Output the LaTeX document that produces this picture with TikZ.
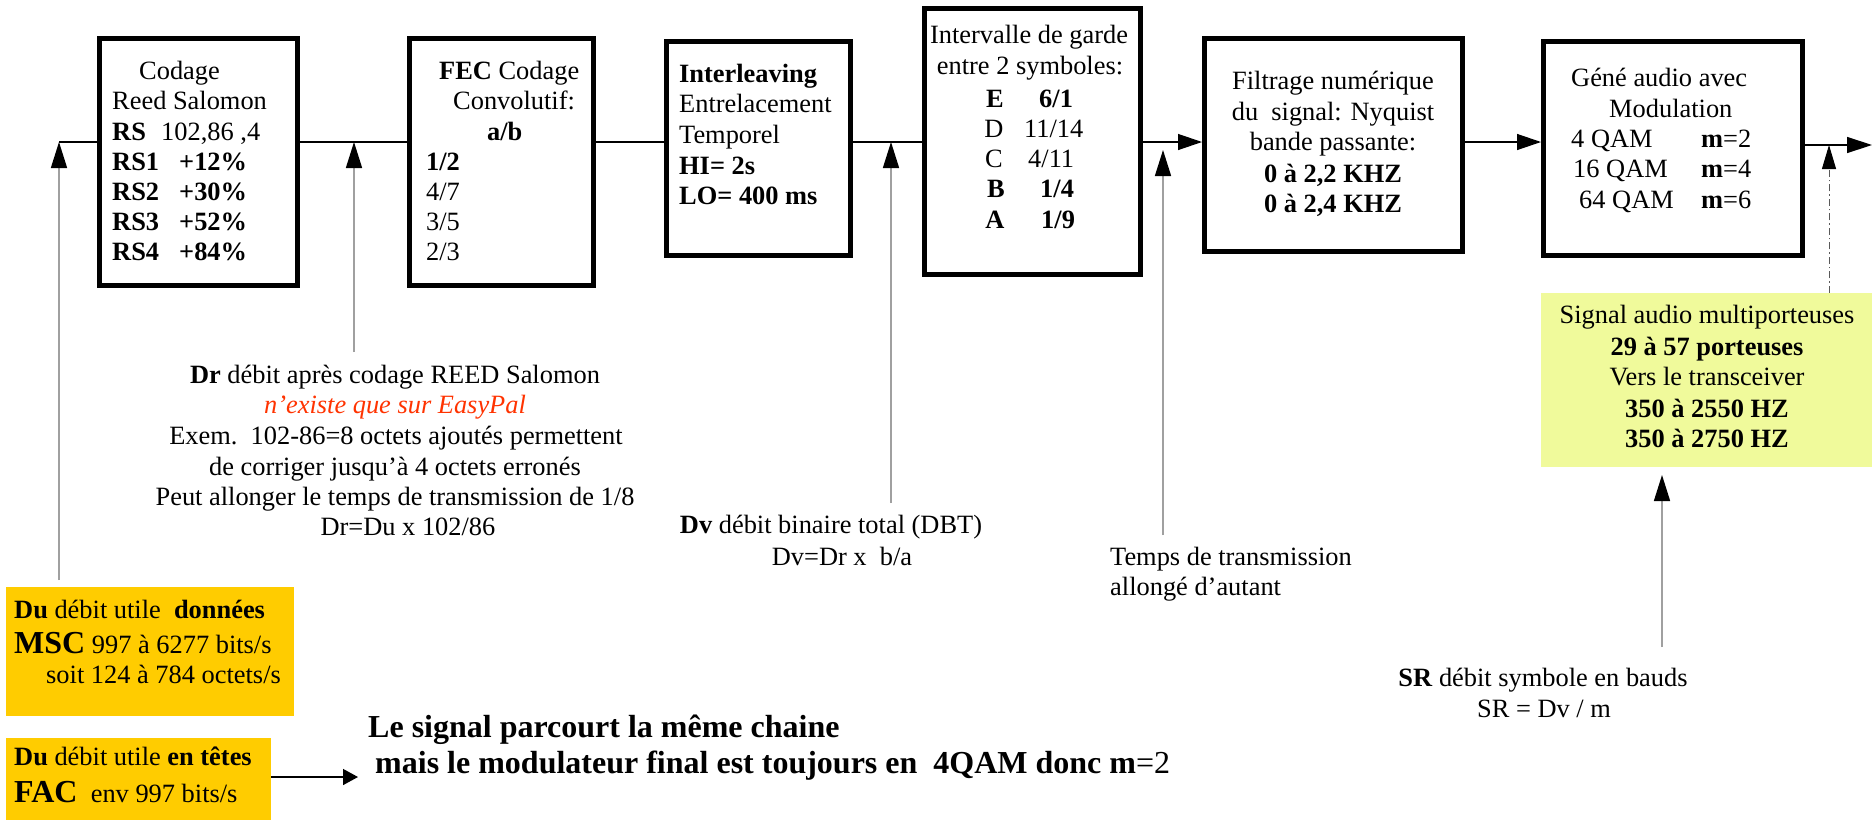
\documentclass[tikz,border=0pt]{standalone}
\usepackage{fontspec}
\setmainfont{Liberation Serif}
\usetikzlibrary{arrows.meta}
\definecolor{orangebg}{RGB}{255,204,0}
\definecolor{yellowbg}{RGB}{240,250,155}
\definecolor{redtxt}{RGB}{255,51,0}
\definecolor{lgray}{RGB}{160,160,160}
\definecolor{dgray}{RGB}{90,90,90}
\newcommand\fsn{\fontsize{26.4}{30}\selectfont}
\newcommand\fsbig{\fontsize{32}{36}\selectfont}
\begin{document}
\begin{tikzpicture}[x=1pt,y=-1pt,
  box/.style={draw=black,line width=5pt,fill=white,inner sep=0pt},
  bg/.style={inner sep=0pt},
  txt/.style={inner sep=0pt,anchor=base west,font=\fsn},
  ctxt/.style={inner sep=0pt,anchor=base,font=\fsn},
  bigtxt/.style={inner sep=0pt,anchor=base west,font=\fsbig\bfseries},
  flow/.style={draw=black,line width=1.3pt},
  tipr/.style={-{Triangle[length=24pt,width=16pt]}},
  uparr/.style={draw=lgray,line width=1.5pt,-{Triangle[length=26pt,width=16pt,color=black]}},
  dasharr/.style={draw=dgray,line width=1pt,dash pattern=on 7pt off 3pt on 1.5pt off 3pt,-{Triangle[length=24pt,width=14pt,color=black]}},
]
\useasboundingbox (0,0) rectangle (1872,820);
\fill[white] (0,0) rectangle (1872,820);

% boxes
\node[box,minimum width=198pt,minimum height=247pt] (b1) at (198.5,162) {};
\node[box,minimum width=184pt,minimum height=247pt] (b2) at (501.5,162) {};
\node[box,minimum width=184pt,minimum height=214pt] (b3) at (758.5,148.5) {};
\node[box,minimum width=216pt,minimum height=266pt] (b4) at (1032.5,141.5) {};
\node[box,minimum width=258pt,minimum height=213pt] (b5) at (1333.5,145) {};
\node[box,minimum width=259pt,minimum height=214pt] (b6) at (1673,148.5) {};
\node[bg,fill=yellowbg,minimum width=331pt,minimum height=174pt] (yl) at (1706.5,380) {};
\node[bg,fill=orangebg,minimum width=288pt,minimum height=129pt] (o1) at (150,651.5) {};
\node[bg,fill=orangebg,minimum width=265pt,minimum height=82pt] (o2) at (138.5,779) {};

% junction coordinates
\coordinate (j1) at (59,142);   \coordinate (j1b) at (59,580);
\coordinate (j2) at (354,142);  \coordinate (j2b) at (354,352);
\coordinate (j3) at (891,142);  \coordinate (j3b) at (891,503);
\coordinate (j4) at (1163,150); \coordinate (j4b) at (1163,535);
\coordinate (j5) at (1829,145); \coordinate (out) at (1872,145);
\coordinate (srt) at (1662,475); \coordinate (srb) at (1662,647);
\coordinate (fa) at (358,777);

% main chain
\draw[flow] (j1) -- (j1 -| b1.west);
\draw[flow] (j2 -| b1.east) -- (j2 -| b2.west);
\draw[flow] (j2 -| b2.east) -- (j2 -| b3.west);
\draw[flow] (j3 -| b3.east) -- (j3 -| b4.west);
\draw[flow,tipr] (j3 -| b4.east) -- (j3 -| b5.west);
\draw[flow,tipr] (j3 -| b5.east) -- (j3 -| b6.west);
\draw[flow,-{Triangle[length=25pt,width=16pt]}] (j5 -| b6.east) -- (out);
\draw[dasharr] (yl.north -| j5) -- (j5);

% upward arrows
\draw[uparr] (j1b) -- (j1);
\draw[uparr] (j2b) -- (j2);
\draw[uparr] (j3b) -- (j3);
\draw[uparr] (j4b) -- (j4);
\draw[uparr] (srb) -- (srt);
\draw[flow,line width=1.5pt,-{Triangle[length=15pt,width=16pt]}] (fa -| o2.east) -- (fa);

% box 1
\node[txt] (t1a) at (139,79) {Codage};
\node[txt] (t1b) at (112,109) {Reed Salomon};
\node[txt] (t1c) at (112,140) {\textbf{RS}};
\node[txt] (t1d) at (161,140) {102,86 ,4};
\node[txt] (t1e) at (112,170) {\textbf{RS1}};
\node[txt] (t1f) at (179,170) {\textbf{+12\%}};
\node[txt] (t1g) at (112,200) {\textbf{RS2}};
\node[txt] (t1h) at (179,200) {\textbf{+30\%}};
\node[txt] (t1i) at (112,230) {\textbf{RS3}};
\node[txt] (t1j) at (179,230) {\textbf{+52\%}};
\node[txt] (t1k) at (112,260) {\textbf{RS4}};
\node[txt] (t1l) at (179,260) {\textbf{+84\%}};

% box 2
\node[txt] (t2a) at (439,79) {\textbf{FEC} Codage};
\node[txt] (t2b) at (453,109) {Convolutif:};
\node[txt] (t2c) at (487,140) {\textbf{a/b}};
\node[txt] (t2d) at (426,170) {\textbf{1/2}};
\node[txt] (t2e) at (426,200) {4/7};
\node[txt] (t2f) at (426,230) {3/5};
\node[txt] (t2g) at (426,260) {2/3};

% box 3
\node[txt] (t3a) at (679,82) {\textbf{Interleaving}};
\node[txt] (t3b) at (679,112) {Entrelacement};
\node[txt] (t3c) at (679,143) {Temporel};
\node[txt] (t3d) at (679,174) {\textbf{HI= 2s}};
\node[txt] (t3e) at (679,204) {\textbf{LO= 400 ms}};

% box 4
\node[ctxt] (t4a) at (1029,43) {Intervalle de garde};
\node[ctxt] (t4b) at (1030,74) {entre 2 symboles:};
\node[ctxt] (t4c) at (995,107) {\textbf{E}};
\node[ctxt] (t4d) at (994,137) {D};
\node[ctxt] (t4e) at (994,167) {C};
\node[ctxt] (t4f) at (996,197) {\textbf{B}};
\node[ctxt] (t4g) at (995,228) {\textbf{A}};
\node[txt] (t4h) at (1039,107) {\textbf{6/1}};
\node[txt] (t4i) at (1024,137) {11/14};
\node[txt] (t4j) at (1028,167) {4/11};
\node[txt] (t4k) at (1040,197) {\textbf{1/4}};
\node[txt] (t4l) at (1041,228) {\textbf{1/9}};

% box 5
\node[ctxt] (t5a) at (1333,89) {Filtrage numérique};
\node[ctxt] (t5b) at (1333,120) {du\ \ signal: Nyquist};
\node[ctxt] (t5c) at (1333,150) {bande passante:};
\node[ctxt] (t5d) at (1333,182) {\textbf{0 à 2,2 KHZ}};
\node[ctxt] (t5e) at (1333,212) {\textbf{0 à 2,4 KHZ}};

% box 6
\node[txt] (t6a) at (1571,86) {Géné audio avec};
\node[txt] (t6b) at (1609,117) {Modulation};
\node[txt] (t6c) at (1571,147) {4 QAM};
\node[txt] (t6d) at (1573,177) {16 QAM};
\node[txt] (t6e) at (1579,208) {64 QAM};
\node[txt] (t6f) at (1701,147) {\textbf{m}=2};
\node[txt] (t6g) at (1701,177) {\textbf{m}=4};
\node[txt] (t6h) at (1701,208) {\textbf{m}=6};

% yellow box text
\node[ctxt] (ya) at (1707,323) {Signal audio multiporteuses};
\node[ctxt] (yb) at (1707,355) {\textbf{29 à 57 porteuses}};
\node[ctxt] (yc) at (1707,385) {Vers le transceiver};
\node[ctxt] (yd) at (1707,417) {\textbf{350 à 2550 HZ}};
\node[ctxt] (ye) at (1707,447) {\textbf{350 à 2750 HZ}};

% Dr block
\node[ctxt] (dra) at (395,383) {\textbf{Dr} débit après codage REED Salomon};
\node[ctxt,text=redtxt] (drb) at (395,413) {\textit{n’existe que sur EasyPal}};
\node[ctxt] (drc) at (396,444) {Exem.\ \ 102-86=8 octets ajoutés permettent};
\node[ctxt] (drd) at (395,475) {de corriger jusqu’à 4 octets erronés};
\node[ctxt] (dre) at (395,505) {Peut allonger le temps de transmission de 1/8};
\node[ctxt] (drf) at (408,535) {Dr=Du x 102/86};

% Dv block
\node[ctxt] (dva) at (831,533) {\textbf{Dv} débit binaire total (DBT)};
\node[ctxt] (dvb) at (842,565) {Dv=Dr x\ \ b/a};

% Temps block
\node[txt] (tpa) at (1110,565) {Temps de transmission};
\node[txt] (tpb) at (1110,595) {allongé d’autant};

% SR block
\node[ctxt] (sra) at (1543,686) {\textbf{SR} débit symbole en bauds};
\node[ctxt] (srbt) at (1544,717) {SR = Dv / m};

% orange boxes text
\node[txt] (oa) at (14,618) {\textbf{Du} débit utile\ \ \textbf{données}};
\node[txt] (ob) at (14,653) {{\fsbig\bfseries MSC} 997 à 6277 bits/s};
\node[txt] (oc) at (46,683) {soit 124 à 784 octets/s};
\node[txt] (od) at (14,765) {\textbf{Du} débit utile \textbf{en têtes}};
\node[txt] (oe) at (14,802) {{\fsbig\bfseries FAC}\ \ env 997 bits/s};

% bottom text
\node[bigtxt] (la) at (368,737) {Le signal parcourt la même chaine};
\node[bigtxt] (lb) at (375,773) {mais le modulateur final est toujours en\ \ 4QAM donc m\textmd{=2}};
\end{tikzpicture}
\end{document}
